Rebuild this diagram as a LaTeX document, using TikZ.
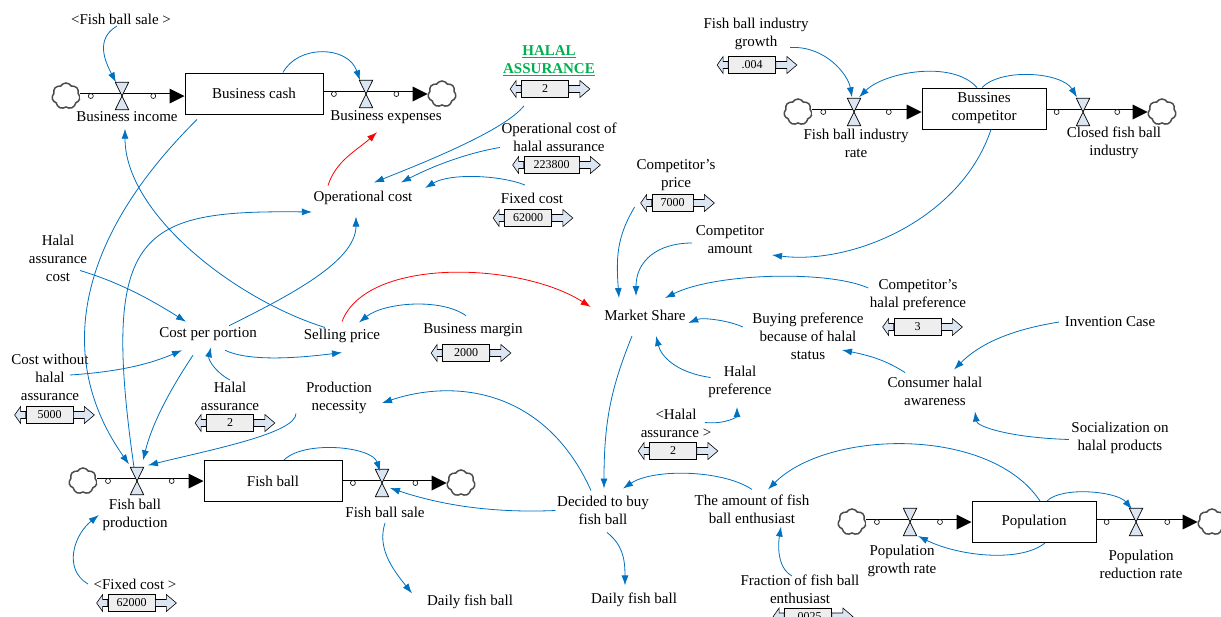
\documentclass[tikz,border=0pt]{standalone}
\usepackage{fontspec}
\setmainfont{Liberation Serif}
\usetikzlibrary{arrows.meta,shapes.symbols}

\definecolor{linkblue}{HTML}{0070C0}
\definecolor{halalgreen}{HTML}{00B050}
\definecolor{valveblue}{HTML}{DCE6F2}
\definecolor{boxgray}{HTML}{EEEEEE}

\newcommand{\varfont}{\fontsize{15}{18}\selectfont}
\newcommand{\numfont}{\fontsize{12}{14}\selectfont}

% valve of a flow
\newcommand{\valve}[2]{%
  \node[valvenode] (#1) at #2 {};
  \draw[valvetri] (#1.north west) -- (#1.north east) -- (#1.south west) -- (#1.south east) -- cycle;}

% pipe of a flow
\newcommand{\flowpipe}[2]{%
  \draw[pipe] #1 -- #2;
  \path #1 -- node[pos=.1,pipedot]{} node[pos=.7,pipedot]{} #2;
  \fill #2 -- ++(-15,-7.5) -- ++(0,15) -- cycle;}

% constant with slider
\newcommand{\slider}[4][]{%
  \node[sliderbox,#1] (#2) at #3 {#4};
  \draw[sliderarrow] (#2.west) ++(0,-3.5) -- ++(-5,0) -- ++(0,-5) -- ++(-6,8.5) -- ++(6,8.5) -- ++(0,-5) -- ++(5,0) -- cycle;
  \draw[sliderarrow] (#2.east) ++(0,-3.5) -- ++(11,0) -- ++(0,-5) -- ++(10,8.5) -- ++(-10,8.5) -- ++(0,-5) -- ++(-11,0) -- cycle;}

\tikzset{
  var/.style={font=\varfont, align=center, inner sep=1.5pt},
  stock/.style={draw, line width=1pt, minimum width=138pt, minimum height=41pt, font=\varfont, align=center},
  cloudy/.style={cloud, cloud puffs=7, cloud puff arc=120, cloud ignores aspect, draw=black!70, line width=1.5pt, minimum width=28pt, minimum height=26pt, inner sep=0pt},
  valvenode/.style={minimum width=13pt, minimum height=27pt, inner sep=0pt},
  valvetri/.style={draw, line width=0.7pt, fill=valveblue},
  pipe/.style={draw, line width=0.9pt, double=white, double distance=5pt, shorten >=12pt},
  pipedot/.style={circle, draw, fill=white, line width=0.6pt, inner sep=0pt, minimum size=5pt},
  sliderbox/.style={draw, line width=0.7pt, fill=boxgray, minimum width=47pt, minimum height=17pt, inner sep=1pt, font=\numfont},
  sliderarrow/.style={draw, line width=0.6pt, fill=valveblue},
  link/.style={draw=linkblue, line width=0.8pt, -{Latex[length=10pt,width=7pt]}},
  redlink/.style={link, draw=red},
}

\begin{document}
\begin{tikzpicture}[x=1pt,y=-1pt]
\useasboundingbox (0,0) rectangle (1221,616);
\clip (0,0) rectangle (1221,616);

% business cash
\node[stock] (bcash) at (254,93.5) {Business cash};
\node[cloudy] (cl1) at (66,96) {};
\node[cloudy] (cl2) at (442,94) {};
\flowpipe{(cl1.east)}{(cl1.east -| bcash.west)}
\flowpipe{(bcash.east |- cl2.west)}{(cl2.west)}
\valve{vbi}{(122,96)}
\valve{vbe}{(366,94)}
\node[var] (bincome) at (127,117) {Business income};
\node[var] (bexp) at (386,117) {Business expenses};
\node[var] (fbsale) at (121,19) {<Fish ball sale >};

% operational cost
\node[var, font=\varfont\bfseries, text=halalgreen] (halal) at (549,61) {\underline{HALAL}\\\underline{ASSURANCE}};
\slider{shalal}{(545,89)}{2}
\node[var] (opch) at (559,137.5) {Operational cost of\\halal assurance};
\slider[minimum width=55pt]{sopch}{(551.5,165)}{223800}
\node[var] (fixc) at (532,198) {Fixed cost};
\slider{sfixc}{(528,218)}{62000}
\node[var] (opc) at (363,198) {Operational cost};

% competitor
\node[stock, minimum width=124pt] (bcomp) at (984,108.5) {Bussines\\competitor};
\node[cloudy] (cl3) at (798,112) {};
\node[cloudy] (cl4) at (1162,112) {};
\flowpipe{(cl3.east)}{(cl3.east -| bcomp.west)}
\flowpipe{(bcomp.east |- cl4.west)}{(cl4.west)}
\valve{vfbir}{(854,112)}
\valve{vcfi}{(1083,112)}
\node[var] (fbir) at (856,143) {Fish ball industry\\rate};
\node[var] (cfi) at (1114,143) {Closed fish ball\\industry};
\node[var] (fbig) at (756,33.5) {Fish ball industry\\growth};
\slider{sfbig}{(752,65)}{.004}
\node[var] (cpr) at (676,175) {Competitor’s\\price};
\slider[minimum width=41pt]{scpr}{(672.5,203)}{7000}
\node[var] (camt) at (730,240) {Competitor\\amount};

% market share
\node[var] (ms) at (645,315) {Market Share};
\node[var] (chp) at (918,295) {Competitor’s\\halal preference};
\slider{schp}{(917.5,327)}{3}
\node[var] (bp) at (808,336) {Buying preference\\because of halal\\status};
\node[var] (ic) at (1110,322) {Invention Case};
\node[var] (cha) at (935,391.5) {Consumer halal\\awareness};
\node[var] (hp) at (740,381.5) {Halal\\preference};
\node[var] (hasr2) at (676,423.5) {<Halal\\assurance >};
\slider{shasr2}{(673,451)}{2}
\node[var] (soc) at (1120,437.5) {Socialization on\\halal products};

% cost and price
\node[var] (hac) at (58,258.5) {Halal\\assurance\\cost};
\node[var] (cpp) at (208,334) {Cost per portion};
\node[var] (sp) at (342,336) {Selling price};
\node[var] (bm) at (473,330) {Business margin};
\slider{sbm}{(466,353)}{2000}
\node[var] (cwh) at (50,377) {Cost without\\halal\\assurance};
\slider{scwh}{(49.5,415)}{5000}
\node[var] (hasr) at (230,396) {Halal\\assurance};
\slider{shasr}{(230,423)}{2}
\node[var] (pn) at (339,398) {Production\\necessity};

% fish ball
\node[stock] (fb) at (273,481) {Fish ball};
\node[cloudy] (cl5) at (83,481) {};
\node[cloudy] (cl6) at (461,483) {};
\flowpipe{(cl5.east)}{(cl5.east -| fb.west)}
\flowpipe{(fb.east |- cl6.west)}{(cl6.west)}
\valve{vfbp}{(137,481)}
\valve{vfbs}{(382,483)}
\node[var] (fbp) at (135,515) {Fish ball\\production};
\node[var] (fbs) at (385,512) {Fish ball sale};
\node[var] (fixc2) at (135,584) {<Fixed cost >};
\slider{sfixc2}{(131.5,603)}{62000}
\node[var] (dfb1) at (470,602) {Daily fish ball};
\node[var] (dtb) at (603,510.5) {Decided to buy\\fish ball};
\node[var] (afe) at (752,509.5) {The amount of fish\\ball enthusiast};
\node[var] (dfb2) at (634,600) {Daily fish ball};
\node[var] (ffe) at (800,589) {Fraction of fish ball\\enthusiast};
\slider{sffe}{(808,616.5)}{.0025}

% population
\node[stock, minimum width=124pt] (pop) at (1034,522) {Population};
\node[cloudy] (cl7) at (852,522) {};
\node[cloudy] (cl8) at (1212,522) {};
\flowpipe{(cl7.east)}{(cl7.east -| pop.west)}
\flowpipe{(pop.east |- cl8.west)}{(cl8.west)}
\valve{vpgr}{(910,522)}
\valve{vprr}{(1136,522)}
\node[var] (pgr) at (902,560.5) {Population\\growth rate};
\node[var] (prr) at (1141,564) {Population\\reduction rate};

% links
\draw[link] ([xshift=-4pt]fbsale.south) .. controls +(-22,13) and +(-11,-21) .. ([xshift=-6pt]vbi.north);
\draw[link] ([xshift=29pt]bcash.north) .. controls +(15,-28) and +(-12,-35) .. ([xshift=-6pt]vbe.north);
\draw[redlink] ([xshift=-35pt,yshift=4pt]opc.north) .. controls +(8,-25) and +(-20,18) .. ([xshift=-9pt,yshift=-7pt]bexp.south);
\draw[link] ([xshift=-21pt,yshift=-8pt]shalal.south) .. controls +(-20,25) and +(50,-20) .. ([xshift=11pt,yshift=7pt]opc.north);
\draw[link] ([yshift=-10pt]opch.west) .. controls +(-30,5) and +(35,-18) .. ([xshift=38pt,yshift=7pt]opc.north);
\draw[link] ([xshift=-7pt,yshift=6pt]fixc.north) .. controls +(-25,-10) and +(25,-15) .. ([xshift=11pt,yshift=10pt]opc.east);
\draw[link] ([xshift=-57pt,yshift=-5pt]bcash.south) .. controls +(-122,121) and +(-74,-105) .. ([xshift=-8pt,yshift=3pt]vfbp.north);
\draw[link] ([xshift=-3pt]vfbp.north) .. controls +(-34,-238) and +(-172,-2) .. ([yshift=-14pt]opc.west);
\draw[link] ([xshift=21pt]cpp.north) .. controls +(60,-30) and +(0,45) .. ([xshift=-7pt,yshift=-10pt]opc.south);
\draw[link] ([xshift=-17pt]sp.north) .. controls +(-90,-28) and +(0,85) .. ([xshift=-2pt,yshift=-5pt]bincome.south);
\draw[link] ([xshift=22pt,yshift=-12pt]hac.center) .. controls +(40,12) and +(-35,-22) .. ([xshift=-22pt,yshift=4pt]cpp.north);
\draw[link] ([xshift=20pt,yshift=2pt]cwh.center) .. controls +(45,-3) and +(-35,15) .. ([xshift=-26pt,yshift=-8pt]cpp.south);
\draw[link] (hasr.north) .. controls +(-15,-8) and +(-3,12) .. ([xshift=3pt,yshift=-5pt]cpp.south);
\draw[link] ([xshift=17pt,yshift=-8pt]cpp.south) .. controls +(25,12) and +(-40,5) .. ([yshift=-8pt]sp.south);
\draw[link] ([xshift=-7pt,yshift=6pt]bm.north) .. controls +(-25,-18) and +(25,-20) .. ([xshift=17pt,yshift=5pt]sp.north);
\draw[redlink] ([yshift=6pt]sp.north) .. controls +(25,-65) and +(-70,-45) .. ([xshift=-12pt,yshift=8pt]ms.west);
\draw[link] ([xshift=-43pt,yshift=2pt]pn.south) .. controls +(0,20) and +(60,-15) .. ([xshift=11pt,yshift=2pt]vfbp.north);
\draw[link] ([xshift=-15pt,yshift=-13pt]cpp.south) .. controls +(-20,30) and +(10,-40) .. ([xshift=6pt,yshift=7pt]vfbp.north);
\draw[link] ([xshift=-12pt,yshift=4pt]dtb.north) .. controls +(-45,-100) and +(75,-25) .. ([xshift=43pt,yshift=-5pt]pn.center);
\draw[link] (dtb.west) .. controls +(-70,3) and +(45,15) .. ([xshift=8pt,yshift=-5pt]vfbs.center);
\draw[link] ([xshift=11pt]fb.north) .. controls +(20,-20) and +(-8,-25) .. ([xshift=-2pt,yshift=-2pt]vfbs.north);
\draw[link] ([yshift=-4pt]fbs.south) .. controls +(-8,25) and +(-20,-25) .. ([xshift=-58pt]dfb1.north);
\draw[link] ([xshift=4pt,yshift=-6pt]dtb.south) .. controls +(15,12) and +(0,-28) .. ([xshift=-9pt,yshift=6pt]dfb2.north);
\draw[link] ([xshift=-13pt,yshift=-14pt]ms.south) .. controls +(-20,50) and +(0,-70) .. ([xshift=1pt,yshift=6pt]dtb.north);
\draw[link] ([xshift=-4pt]fixc2.west) .. controls +(-25,-15) and +(-25,20) .. ([xshift=-2pt]fbp.west);
\draw[link] ([yshift=4pt]afe.north) .. controls +(-30,-20) and +(30,-20) .. ([xshift=20pt,yshift=6pt]dtb.north);
\draw[link] ([xshift=6pt]pop.north) .. controls +(-50,-75) and +(60,-60) .. ([xshift=16pt,yshift=4pt]afe.north);
\draw[link] ([xshift=13pt]pop.north) .. controls +(15,-15) and +(-15,-18) .. ([xshift=-4pt,yshift=-1pt]vprr.north);
\draw[link] ([xshift=11pt]pop.south) .. controls +(-25,20) and +(40,20) .. ([xshift=8pt,yshift=-14pt]vpgr.center);
\draw[link] ([xshift=-8pt,yshift=-3pt]ffe.north) .. controls +(-15,-8) and +(-3,18) .. ([xshift=29pt,yshift=-1pt]afe.south);
\draw[link] ([xshift=7pt]bcomp.south) .. controls +(-30,90) and +(80,10) .. ([xshift=42pt,yshift=-15pt]camt.center);
\draw[link] ([xshift=-17pt,yshift=-4pt]scpr.west) .. controls +(-18,30) and +(-3,-40) .. ([xshift=-26pt,yshift=10pt]ms.north);
\draw[link] ([xshift=-2pt,yshift=-3pt]camt.west) .. controls +(-35,0) and +(0,-35) .. ([xshift=-9pt,yshift=12pt]ms.north);
\draw[link] ([yshift=7pt]chp.west) .. controls +(-40,-18) and +(50,-25) .. ([xshift=20pt,yshift=10pt]ms.north);
\draw[link] ([xshift=-8pt,yshift=9pt]bp.west) .. controls +(-12,-6) and +(15,-6) .. ([xshift=1pt,yshift=-8pt]ms.east);
\draw[link] ([xshift=4pt,yshift=4pt]hp.west) .. controls +(-35,-5) and +(5,20) .. ([xshift=11pt,yshift=-14pt]ms.south);
\draw[link] ([xshift=-8pt,yshift=1pt]hasr2.east) .. controls +(20,2) and +(0,10) .. ([xshift=-3pt,yshift=-8pt]hp.south);
\draw[link] ([xshift=-4pt]ic.west) .. controls +(-50,8) and +(25,-25) .. ([xshift=19pt,yshift=6pt]cha.north);
\draw[link] ([xshift=-30pt,yshift=3pt]cha.north) .. controls +(-20,-13) and +(25,5) .. ([xshift=34pt,yshift=-14pt]bp.center);
\draw[link] ([xshift=-1pt,yshift=-2pt]soc.west) .. controls +(-60,-2) and +(2,15) .. ([xshift=40pt,yshift=-4pt]cha.south);
\draw[link] ([xshift=34pt,yshift=-14pt]fbig.center) .. controls +(35,-2) and +(-4,-23) .. ([xshift=-2pt,yshift=1pt]vfbir.north);
\draw[link] ([xshift=-7pt]bcomp.north) .. controls +(-25,-28) and +(25,-25) .. ([xshift=5pt,yshift=1pt]vfbir.north);
\draw[link] ([xshift=-2pt]bcomp.north) .. controls +(20,-20) and +(-15,-25) .. ([xshift=-6pt,yshift=1pt]vcfi.north);
\end{tikzpicture}
\end{document}
